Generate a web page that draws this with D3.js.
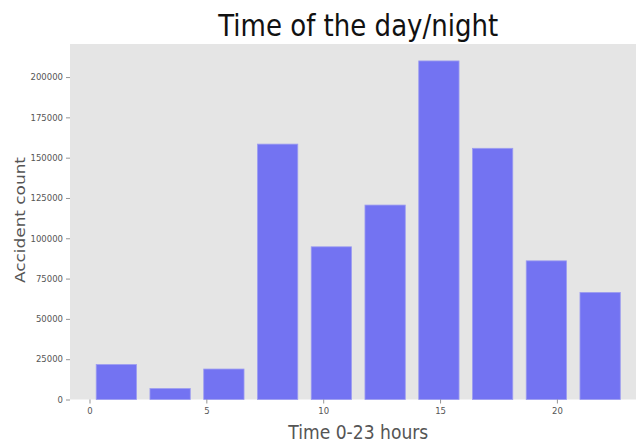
<!DOCTYPE html>
<html>
<head>
<meta charset="utf-8">
<script src="https://cdn.jsdelivr.net/npm/d3@7"></script>
<style>
  body { margin: 0; background: #fff; }
  svg { display: block; }
  text { font-family: "DejaVu Sans", sans-serif; }
</style>
</head>
<body>
<svg id="chart" width="636" height="444"></svg>
<script>
// histogram of accident hours, 10 bins over 0-23
const binEdges = [0, 2.3, 4.6, 6.9, 9.2, 11.5, 13.8, 16.1, 18.4, 20.7, 23];
const counts = [21700, 6800, 18900, 158400, 94700, 120600, 210000, 155800, 86000, 66400];
const xTicks = [0, 5, 10, 15, 20];
const yTicks = [0, 25000, 50000, 75000, 100000, 125000, 150000, 175000, 200000];
const rwidth = 0.75;

const svg = d3.select("#chart");

const bins = counts.map((c, i) => {
    const w = binEdges[i + 1] - binEdges[i];
    const mid = (binEdges[i] + binEdges[i + 1]) / 2;
    return { x0: mid - w * rwidth / 2, x1: mid + w * rwidth / 2, count: c };
});

// matplotlib-ish 5% margins around the bars
const lo = bins[0].x0, hi = bins[bins.length - 1].x1;
const pad = (hi - lo) * 0.05;
const x = d3.scaleLinear().domain([lo - pad, hi + pad]).range([70, 646.5]);
const yMax = d3.max(counts) * 1.05;
const y = d3.scaleLinear().domain([0, yMax]).range([399.5, 44]);

// axes background
svg.append("rect")
    .attr("x", x.range()[0])
    .attr("y", y.range()[1])
    .attr("width", x.range()[1] - x.range()[0])
    .attr("height", y.range()[0] - y.range()[1])
    .attr("fill", "#e5e5e5");

// bars
svg.append("g").selectAll("rect")
    .data(bins)
    .join("rect")
    .attr("x", d => x(d.x0))
    .attr("y", d => y(d.count))
    .attr("width", d => x(d.x1) - x(d.x0))
    .attr("height", d => y(0) - y(d.count))
    .attr("fill", "#7373f2")
    .attr("stroke", "#9d9df0")
    .attr("stroke-width", 0.8);

// X axis
const xAxis = svg.append("g")
    .attr("transform", `translate(0,${y(0)})`)
    .call(d3.axisBottom(x).tickValues(xTicks).tickSize(4).tickPadding(4));
// Y axis
const yAxis = svg.append("g")
    .attr("transform", `translate(${x.range()[0]},0)`)
    .call(d3.axisLeft(y).tickValues(yTicks).tickSize(4).tickPadding(3).tickFormat(d3.format("d")));

[xAxis, yAxis].forEach(a => {
    a.select(".domain").remove();
    a.selectAll(".tick line").attr("stroke", "#7a7a7a").attr("stroke-width", 0.8);
    a.selectAll(".tick text")
        .attr("fill", "#555")
        .attr("font-size", "8.5px")
        .attr("font-family", "DejaVu Sans, sans-serif");
});

// title
svg.append("text")
    .attr("x", (x.range()[0] + x.range()[1]) / 2)
    .attr("y", 36)
    .attr("text-anchor", "middle")
    .attr("font-size", "30px")
    .attr("fill", "#111")
    .attr("textLength", 280)
    .attr("lengthAdjust", "spacingAndGlyphs")
    .text("Time of the day/night");

// axis labels
svg.append("text")
    .attr("x", (x.range()[0] + x.range()[1]) / 2)
    .attr("y", 439)
    .attr("text-anchor", "middle")
    .attr("font-size", "20px")
    .attr("fill", "#555")
    .attr("textLength", 140)
    .attr("lengthAdjust", "spacingAndGlyphs")
    .text("Time 0-23 hours");

svg.append("text")
    .attr("transform", "rotate(-90)")
    .attr("x", -220)
    .attr("y", 25)
    .attr("text-anchor", "middle")
    .attr("font-size", "14px")
    .attr("fill", "#555")
    .attr("textLength", 126)
    .attr("lengthAdjust", "spacingAndGlyphs")
    .text("Accident count");
</script>
</body>
</html>
